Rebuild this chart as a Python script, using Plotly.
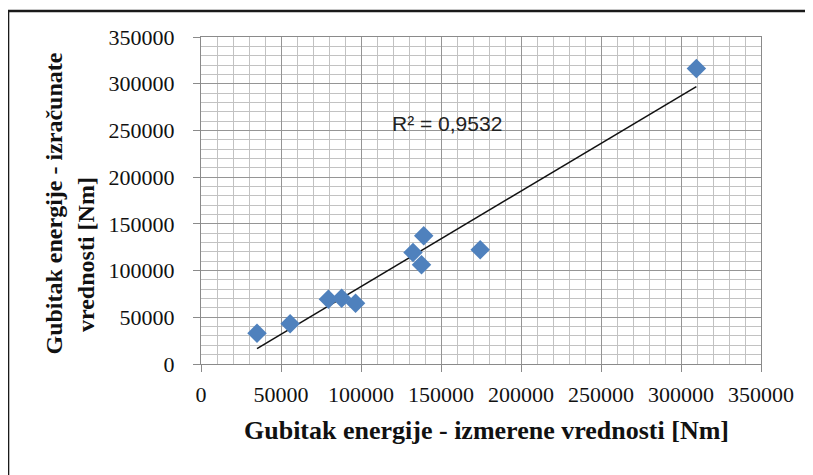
import numpy as np
import plotly.graph_objects as go

# Measured vs. calculated energy loss [Nm]
measured = [35000, 55700, 79600, 87900, 96600, 132500, 137800, 139200, 174500, 309600]
calculated = [33000, 43000, 69400, 70500, 65100, 119400, 106200, 137300, 122300, 316200]
r2_label = "R² = 0,9532"
x_title = "Gubitak energije - izmerene vrednosti [Nm]"
y_title_1 = "Gubitak energije - izračunate"
y_title_2 = "vrednosti [Nm]"
tick_vals = [0, 50000, 100000, 150000, 200000, 250000, 300000, 350000]

# linear trendline (least squares)
xa = np.array(measured, dtype=float)
ya = np.array(calculated, dtype=float)
slope, intercept = np.polyfit(xa, ya, 1)
tx = np.array([xa.min(), xa.max()])
ty = slope * tx + intercept

fig = go.Figure()
fig.add_trace(go.Scatter(
    x=tx, y=ty, mode="lines",
    line=dict(color="#111111", width=1.5),
    showlegend=False, hoverinfo="skip",
))
fig.add_trace(go.Scatter(
    x=measured, y=calculated, mode="markers",
    marker=dict(symbol="diamond", size=15, color="#4F81BD", line=dict(width=0)),
    showlegend=False,
))

W, H = 813, 475
OFF = 8  # page body margin
# desired plot area in screenshot pixels
PX0, PX1, PY0, PY1 = 201, 761, 37, 364
L = PX0 - OFF
T = PY0 - OFF
R = W - (PX1 - OFF)
B = H - (PY1 - OFF)
pw, ph = PX1 - PX0, PY1 - PY0

def px(xs):
    return (xs - PX0) / pw

def py(ys):
    return (PY1 - ys) / ph

serif = "Times New Roman, Liberation Serif, serif"

axis_common = dict(
    range=[0, 350000],
    tickvals=tick_vals,
    ticktext=[str(v) for v in tick_vals],
    showgrid=True, gridcolor="#959595", gridwidth=1.3,
    minor=dict(dtick=10000, tick0=0, showgrid=True, gridcolor="#c2c2c2", gridwidth=1.2),
    showline=True, linecolor="#8a8a8a", linewidth=1.3, mirror=True,
    ticks="outside", ticklen=7, tickcolor="#8a8a8a", tickwidth=1.3,
    tickfont=dict(family=serif, size=22, color="#111111"),
    zeroline=False, fixedrange=True,
)

fig.update_xaxes(**axis_common, ticklabelstandoff=3)
fig.update_yaxes(**axis_common, ticklabelstandoff=14)

title_font = dict(family=serif, size=24, color="#111111")

annotations = [
    dict(text="<b>" + x_title + "</b>", xref="paper", yref="paper",
         x=px(486), y=py(430), xanchor="center", yanchor="middle",
         showarrow=False, font=dict(family=serif, size=26, color="#111111")),
    dict(text="<b>" + y_title_1 + "</b>", xref="paper", yref="paper",
         x=px(53.5), y=py(204), xanchor="center", yanchor="middle",
         textangle=-90, showarrow=False, font=title_font),
    dict(text="<b>" + y_title_2 + "</b>", xref="paper", yref="paper",
         x=px(86), y=py(255), xanchor="center", yanchor="middle",
         textangle=-90, showarrow=False, font=title_font),
    dict(text=r2_label, xref="paper", yref="paper",
         x=px(446.5), y=py(123.5), xanchor="center", yanchor="middle",
         showarrow=False, font=dict(family="Liberation Sans, Arial, sans-serif", size=21, color="#222222")),
]

shapes = [
    dict(type="line", xref="paper", yref="paper",
         x0=px(8), x1=px(830), y0=py(11), y1=py(11),
         line=dict(color="#1a1a1a", width=2.6)),
    dict(type="line", xref="paper", yref="paper",
         x0=px(8), x1=px(8), y0=py(11), y1=py(490),
         line=dict(color="#1a1a1a", width=2.6)),
]

fig.update_layout(
    width=W, height=H,
    margin=dict(l=L, r=R, t=T, b=B),
    paper_bgcolor="white", plot_bgcolor="white",
    annotations=annotations, shapes=shapes,
    showlegend=False,
)

fig.write_html("out.html")
